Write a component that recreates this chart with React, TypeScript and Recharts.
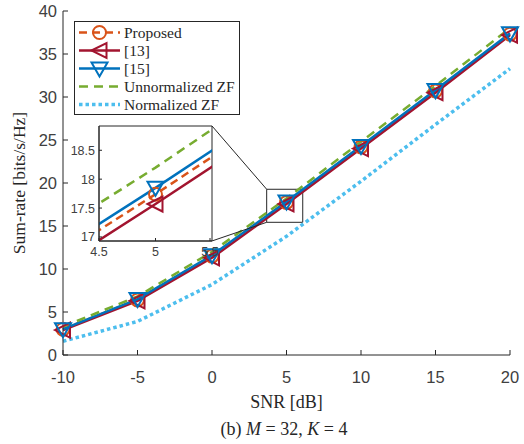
import React from 'react';
import { LineChart, Line, XAxis, YAxis, ReferenceArea, ReferenceLine, Legend } from 'recharts';

// ---- data ----
const snr = [-10, -5, 0, 5, 10, 15, 20];
const proposed = [3.0, 6.4, 11.5, 17.74, 24.2, 30.7, 37.3];
const ref13 = [2.9, 6.3, 11.3, 17.57, 24.0, 30.5, 37.2];
const ref15 = [3.0, 6.5, 11.6, 17.85, 24.3, 30.8, 37.4];
const unnormZF = [3.3, 6.8, 12.0, 18.2, 24.8, 31.3, 38.0];
const normZF = [1.6, 3.9, 8.2, 13.8, 20.2, 26.8, 33.3];

const xTicks = [-10, -5, 0, 5, 10, 15, 20];
const yTicks = [0, 5, 10, 15, 20, 25, 30, 35, 40];
const insetXTicks = [4.5, 5, 5.5];
const insetYTicks = [17, 17.5, 18, 18.5];
const insetXDomain = [4.5, 5.5];
const insetYDomain = [16.93, 18.92];
// zoom rectangle on the main axes (data units)
const zoomBox = { x1: 3.67, x2: 6.09, y1: 15.43, y2: 19.27 };
// inset right-edge corners expressed in main-axes data units
const insetTopRight = { x: 0.0, y: 26.63 };
const insetBottomRight = { x: 0.0, y: 13.26 };

const data = snr.map((s, i) => ({
  snr: s,
  proposed: proposed[i],
  ref13: ref13[i],
  ref15: ref15[i],
  unnorm: unnormZF[i],
  norm: normZF[i],
}));

const C_OR = '#D95319';
const C_RED = '#A2142F';
const C_BLUE = '#0072BD';
const C_GREEN = '#77AC30';
const C_LB = '#4DBEEE';
const AX = '#262626';
const TXT = '#404040';
const SANS = '"Liberation Sans", Arial, Helvetica, sans-serif';
const SERIF = '"Liberation Serif", "Times New Roman", serif';

type MarkerKind = 'circle' | 'left' | 'down' | 'none';

const drawMarker = (kind: MarkerKind, cx: number, cy: number, color: string, key?: string) => {
  if (kind === 'circle')
    return <circle key={key} cx={cx} cy={cy} r={6.5} fill="none" stroke={color} strokeWidth={2} />;
  if (kind === 'left') {
    const pts = `${cx - 8},${cy} ${cx + 7},${cy - 7.5} ${cx + 7},${cy + 7.5}`;
    return <polygon key={key} points={pts} fill="none" stroke={color} strokeWidth={2} strokeLinejoin="miter" />;
  }
  if (kind === 'down') {
    const pts = `${cx - 8},${cy - 6} ${cx + 8},${cy - 6} ${cx},${cy + 8}`;
    return <polygon key={key} points={pts} fill="none" stroke={color} strokeWidth={2} strokeLinejoin="miter" />;
  }
  return <g key={key} />;
};

const dotFn = (kind: MarkerKind, color: string) => (p: any) =>
  drawMarker(kind, p.cx, p.cy, color, `d-${kind}-${p.index}`);

const series = [
  { key: 'proposed', name: 'Proposed', color: C_OR, dash: '8 5', width: 2.5, marker: 'circle' as MarkerKind },
  { key: 'ref13', name: '[13]', color: C_RED, dash: undefined, width: 2.5, marker: 'left' as MarkerKind },
  { key: 'ref15', name: '[15]', color: C_BLUE, dash: undefined, width: 2.5, marker: 'down' as MarkerKind },
  { key: 'unnorm', name: 'Unnormalized ZF', color: C_GREEN, dash: '9 6', width: 2.5, marker: 'none' as MarkerKind },
  { key: 'norm', name: 'Normalized ZF', color: C_LB, dash: '3.5 3', width: 3.5, marker: 'none' as MarkerKind },
];

const XTick = (p: any) => (
  <g>
    <line x1={p.x} x2={p.x} y1={p.y} y2={p.y - 5} stroke={AX} strokeWidth={1} />
    <text x={p.x} y={p.y + 28} textAnchor="middle" fontFamily={SANS} fontSize={16.5} fill={TXT}>
      {p.payload.value}
    </text>
  </g>
);

const YTick = (p: any) => (
  <g>
    <line x1={p.x} x2={p.x + 5} y1={p.y} y2={p.y} stroke={AX} strokeWidth={1} />
    <text x={p.x - 6} y={p.y + 6} textAnchor="end" fontFamily={SANS} fontSize={16.5} fill={TXT}>
      {p.payload.value}
    </text>
  </g>
);

const IXTick = (p: any) => (
  <g>
    <line x1={p.x} x2={p.x} y1={p.y} y2={p.y - 3} stroke={AX} strokeWidth={1} />
    <text x={p.x} y={p.y + 15} textAnchor="middle" fontFamily={SANS} fontSize={12.5} fill={TXT}>
      {p.payload.value}
    </text>
  </g>
);

const IYTick = (p: any) => (
  <g>
    <line x1={p.x} x2={p.x + 3} y1={p.y} y2={p.y} stroke={AX} strokeWidth={1} />
    <text x={p.x - 4} y={p.y + 4.5} textAnchor="end" fontFamily={SANS} fontSize={12.5} fill={TXT}>
      {p.payload.value}
    </text>
  </g>
);

const LegendBox = () => (
  <div style={{ width: 166, height: 94, border: `1px solid ${AX}`, background: '#fff', boxSizing: 'border-box' }}>
    <svg width={164} height={92} style={{ display: 'block' }}>
      {series.map((s, i) => {
        const cy = 10.5 + i * 18;
        return (
          <g key={s.key}>
            <line x1={4} x2={45} y1={cy} y2={cy} stroke={s.color} strokeWidth={s.width} strokeDasharray={s.dash} />
            {drawMarker(s.marker, 24.5, cy, s.color)}
            <text x={49} y={cy + 5} fontFamily={SERIF} fontSize={15.5} fill={AX}>
              {s.name}
            </text>
          </g>
        );
      })}
    </svg>
  </div>
);

export default function App() {
  return (
    <div style={{ position: 'absolute', left: 0, top: 0, width: 524, height: 444, background: '#fff' }}>
      <LineChart width={524} height={444} data={data} margin={{ top: 11, right: 14, left: 13, bottom: 59 }}>
        <XAxis
          dataKey="snr"
          type="number"
          domain={[-10, 20]}
          ticks={xTicks}
          height={30}
          tickSize={0}
          tickMargin={0}
          tick={XTick}
          axisLine={{ stroke: AX, strokeWidth: 1 }}
          tickLine={false}
          label={{
            content: (p: any) => (
              <text
                x={p.viewBox.x + p.viewBox.width / 2}
                y={p.viewBox.y + 53}
                textAnchor="middle"
                fontFamily={SERIF}
                fontSize={18}
                fill={AX}
              >
                SNR [dB]
              </text>
            ),
          }}
        />
        <YAxis
          type="number"
          domain={[0, 40]}
          ticks={yTicks}
          width={50}
          tickSize={0}
          tickMargin={0}
          tick={YTick}
          axisLine={{ stroke: AX, strokeWidth: 1 }}
          tickLine={false}
          label={{
            content: (p: any) => {
              const x = p.viewBox.x + 12;
              const y = p.viewBox.y + p.viewBox.height / 2;
              return (
                <text
                  x={x}
                  y={y}
                  transform={`rotate(-90 ${x} ${y})`}
                  textAnchor="middle"
                  fontFamily={SERIF}
                  fontSize={17.5}
                  fill={AX}
                >
                  Sum-rate [bits/s/Hz]
                </text>
              );
            },
          }}
        />
        <Legend
          layout="vertical"
          align="center"
          verticalAlign="middle"
          content={LegendBox}
          wrapperStyle={{ left: 74, top: 21, width: 166, height: 94 }}
        />
        {series.map((s) => (
          <Line
            key={s.key}
            dataKey={s.key}
            name={s.name}
            type="linear"
            stroke={s.color}
            strokeWidth={s.width}
            strokeDasharray={s.dash}
            dot={s.marker === 'none' ? false : dotFn(s.marker, s.color)}
            activeDot={false}
            isAnimationActive={false}
          />
        ))}
        <ReferenceArea
          x1={zoomBox.x1}
          x2={zoomBox.x2}
          y1={zoomBox.y1}
          y2={zoomBox.y2}
          fill="none"
          fillOpacity={0}
          stroke={AX}
          strokeWidth={1}
          ifOverflow="visible"
        />
        <ReferenceLine
          segment={[insetTopRight, { x: zoomBox.x1, y: zoomBox.y2 }]}
          stroke={AX}
          strokeWidth={1}
          ifOverflow="visible"
        />
        <ReferenceLine
          segment={[insetBottomRight, { x: zoomBox.x1, y: zoomBox.y1 }]}
          stroke={AX}
          strokeWidth={1}
          ifOverflow="visible"
        />
      </LineChart>

      <div style={{ position: 'absolute', left: 55, top: 120, width: 165, height: 145 }}>
        <LineChart width={165} height={145} data={data} margin={{ top: 6, right: 8, left: 4, bottom: 0 }}>
          <XAxis
            dataKey="snr"
            type="number"
            domain={insetXDomain}
            allowDataOverflow
            ticks={insetXTicks}
            height={24}
            tickSize={0}
            tickMargin={0}
            tick={IXTick}
            axisLine={{ stroke: AX, strokeWidth: 1 }}
            tickLine={false}
          />
          <YAxis
            type="number"
            domain={insetYDomain}
            allowDataOverflow
            ticks={insetYTicks}
            width={40}
            tickSize={0}
            tickMargin={0}
            tick={IYTick}
            axisLine={{ stroke: AX, strokeWidth: 1 }}
            tickLine={false}
          />
          {series.slice(0, 4).map((s) => (
            <Line
              key={s.key}
              dataKey={s.key}
              type="linear"
              stroke={s.color}
              strokeWidth={s.width}
              strokeDasharray={s.dash}
              dot={s.marker === 'none' ? false : dotFn(s.marker, s.color)}
              activeDot={false}
              isAnimationActive={false}
            />
          ))}
          <ReferenceArea
            x1={insetXDomain[0]}
            x2={insetXDomain[1]}
            y1={insetYDomain[0]}
            y2={insetYDomain[1]}
            fill="none"
            fillOpacity={0}
            stroke={AX}
            strokeWidth={1}
          />
        </LineChart>
      </div>

      <div
        style={{
          position: 'absolute',
          left: 164,
          top: 418,
          width: 240,
          textAlign: 'center',
          fontFamily: SERIF,
          fontSize: 18,
          lineHeight: '22px',
          color: AX,
        }}
      >
        (b) <i>M</i> = 32, <i>K</i> = 4
      </div>
    </div>
  );
}
